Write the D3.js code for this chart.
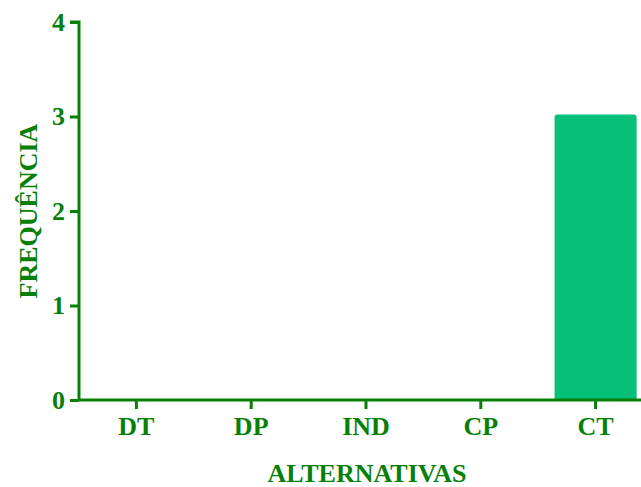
<!DOCTYPE html>
<html>
<head>
<meta charset="utf-8">
<script src="https://cdn.jsdelivr.net/npm/d3@7"></script>
<style>
  html, body { margin: 0; padding: 0; background: #fff; }
  svg { display: block; }
  text { font-family: "Liberation Serif", "Times New Roman", serif; font-weight: bold; }
</style>
</head>
<body>
<svg id="chart" width="641" height="487"></svg>
<script>
// Response counts per alternative
const categories = ["DT", "DP", "IND", "CP", "CT"];
const frequencies = [0, 0, 0, 0, 3];
const yTicks = [0, 1, 2, 3, 4];

const axisColor = "#088008";
const barColor = "#06bf78";

const svg = d3.select("#chart");
const margin = { left: 79, top: 22, bottom: 87 };
const plotBottom = 487 - margin.bottom; // 400

const x = d3.scaleBand()
  .domain(categories)
  .range([margin.left, margin.left + 5 * 114.8])
  .paddingInner(0.285)
  .paddingOuter(0.1425);

const y = d3.scaleLinear()
  .domain([0, 4])
  .range([plotBottom, margin.top]);

// Bars with slightly rounded tops
svg.append("g").selectAll("path")
  .data(categories.map((c, i) => ({ c, v: frequencies[i] })).filter(d => d.v > 0))
  .join("path")
  .attr("fill", barColor)
  .attr("d", d => {
    const x0 = x(d.c), x1 = x0 + x.bandwidth();
    const y0 = y(d.v) - 2, y1 = y(0), r = 3;
    return `M${x0},${y1}V${y0 + r}Q${x0},${y0} ${x0 + r},${y0}H${x1 - r}Q${x1},${y0} ${x1},${y0 + r}V${y1}Z`;
  });

// Y axis
const yAxis = svg.append("g")
  .attr("transform", `translate(${margin.left},0)`)
  .call(d3.axisLeft(y).tickValues(yTicks).tickFormat(d3.format("d")).tickSize(9).tickPadding(5));

// X axis
const xAxis = svg.append("g")
  .attr("transform", `translate(0,${plotBottom})`)
  .call(d3.axisBottom(x).tickSize(9).tickPadding(8).tickSizeOuter(0));

[yAxis, xAxis].forEach(g => {
  g.select(".domain").attr("stroke", axisColor).attr("stroke-width", 3);
  g.selectAll(".tick line").attr("stroke", axisColor).attr("stroke-width", 3);
  g.selectAll(".tick text")
    .attr("fill", axisColor)
    .attr("font-size", 26)
    .attr("font-family", "Liberation Serif, Times New Roman, serif")
    .attr("font-weight", "bold");
});
yAxis.select(".domain").attr("d", `M-9,${y(4)}H0V${plotBottom}`);
xAxis.select(".domain").attr("d", `M${margin.left},0H641`);

// Axis titles
svg.append("text")
  .attr("x", 367)
  .attr("y", 482)
  .attr("text-anchor", "middle")
  .attr("fill", axisColor)
  .attr("font-size", 26)
  .text("ALTERNATIVAS");

svg.append("text")
  .attr("transform", "translate(37,211) rotate(-90)")
  .attr("text-anchor", "middle")
  .attr("fill", axisColor)
  .attr("font-size", 26)
  .text("FREQUÊNCIA");
</script>
</body>
</html>
